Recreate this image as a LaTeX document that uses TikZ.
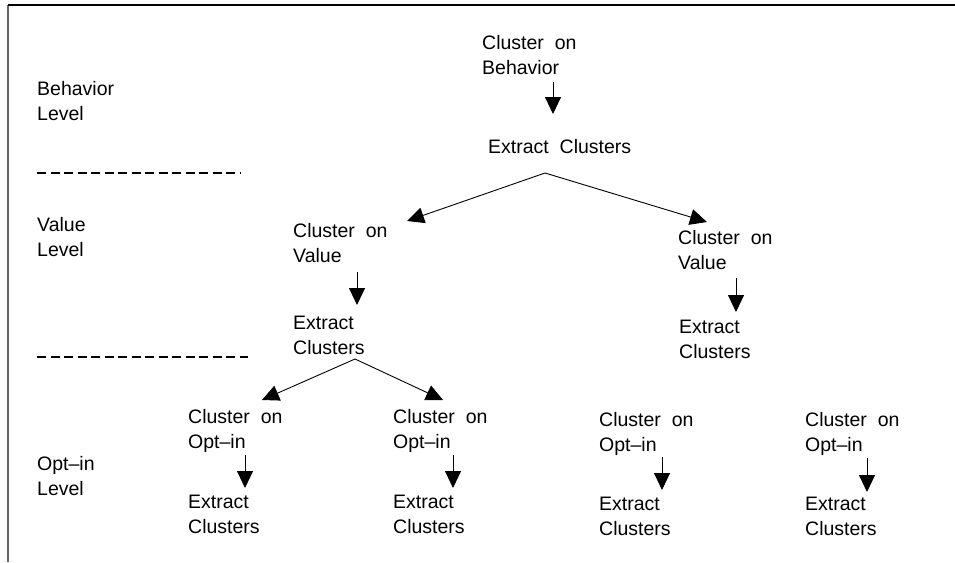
\documentclass[tikz,border=0pt]{standalone}
\usepackage{fontspec}
\setmainfont{Liberation Sans}
\usetikzlibrary{arrows.meta}

\tikzset{
  lbl/.style={anchor=north west, inner sep=0pt, align=left,
              font=\fontsize{19.5}{25}\selectfont},
  arr/.style={line width=0.9pt, -{Triangle[length=17pt,width=16pt]}},
  levelsep/.style={line width=1.8pt, dash pattern=on 9pt off 4.5pt},
}

\begin{document}
\begin{tikzpicture}[x=1pt, y=-1pt]
  \useasboundingbox (0,0) rectangle (955,562);

  % frame
  \draw[line width=1.6pt, black!60] (8,5) -- (8,562);
  \draw[line width=2pt] (8,5) -- (955,5);

  % level labels and separators
  \node[lbl] (lb) at (37,81)  {Behavior\\Level};
  \node[lbl] (lv) at (37,217) {Value\\Level};
  \node[lbl] (lo) at (37,456) {Opt{\char"2013}in\\Level};
  \coordinate (s1a) at (37,173);  \coordinate (s1b) at (241,173);
  \coordinate (s2a) at (37,357);  \coordinate (s2b) at (248,357);
  \draw[levelsep] (s1a) -- (s1b);
  \draw[levelsep] (s2a) -- (s2b);

  % behavior level
  \node[lbl] (n0) at (482,35)  {Cluster~~on\\Behavior};
  \node[lbl] (e0) at (488,139) {Extract~~Clusters};

  % value level
  \node[lbl] (v1)  at (293,223) {Cluster~~on\\Value};
  \node[lbl] (ev1) at (293,316) {Extract\\Clusters};
  \node[lbl] (v2)  at (678,230) {Cluster~~on\\Value};
  \node[lbl] (ev2) at (679,320) {Extract\\Clusters};

  % opt-in level
  \node[lbl] (c1)  at (188,409) {Cluster~~on\\Opt{\char"2013}in};
  \node[lbl] (ec1) at (188,495) {Extract\\Clusters};
  \node[lbl] (c2)  at (393,409) {Cluster~~on\\Opt{\char"2013}in};
  \node[lbl] (ec2) at (393,495) {Extract\\Clusters};
  \node[lbl] (c3)  at (599,412) {Cluster~~on\\Opt{\char"2013}in};
  \node[lbl] (ec3) at (599,497) {Extract\\Clusters};
  \node[lbl] (c4)  at (805,412) {Cluster~~on\\Opt{\char"2013}in};
  \node[lbl] (ec4) at (805,497) {Extract\\Clusters};

  % cluster -> extract
  \draw[arr] ([shift={(71,47)}]n0.north west)  -- ([shift={(65,-25)}]e0.north west);
  \draw[arr] ([shift={(64,49)}]v1.north west)  -- ([shift={(64,-11)}]ev1.north west);
  \draw[arr] ([shift={(58,48)}]v2.north west)  -- ([shift={(57,-8)}]ev2.north west);
  \draw[arr] ([shift={(57,46)}]c1.north west)  -- ([shift={(57,-7)}]ec1.north west);
  \draw[arr] ([shift={(60,46)}]c2.north west)  -- ([shift={(60,-7)}]ec2.north west);
  \draw[arr] ([shift={(63,45)}]c3.north west)  -- ([shift={(63,-7)}]ec3.north west);
  \draw[arr] ([shift={(62,46)}]c4.north west)  -- ([shift={(62,-5)}]ec4.north west);

  % extract -> next level
  \draw[arr] ([shift={(57,34)}]e0.north west)  -- ([shift={(114,-2)}]v1.north west);
  \draw[arr] ([shift={(57,34)}]e0.north west)  -- ([shift={(29,-8)}]v2.north west);
  \draw[arr] ([shift={(62,43)}]ev1.north west) -- ([shift={(74,-9)}]c1.north west);
  \draw[arr] ([shift={(62,43)}]ev1.north west) -- ([shift={(50,-9)}]c2.north west);
\end{tikzpicture}
\end{document}
